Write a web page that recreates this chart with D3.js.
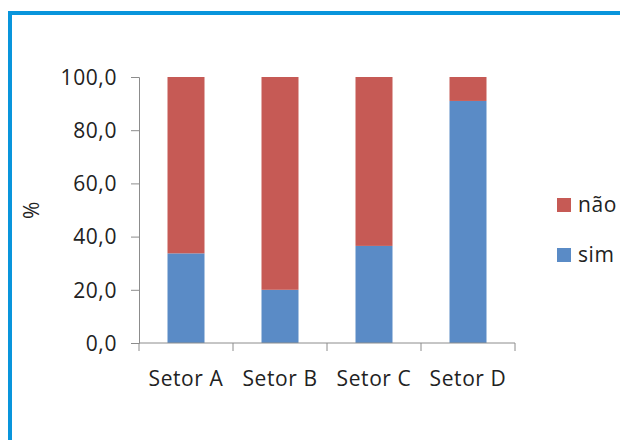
<!DOCTYPE html>
<html>
<head>
<meta charset="utf-8">
<script src="https://cdn.jsdelivr.net/npm/d3@7"></script>
<style>
  html, body { margin: 0; padding: 0; background: #fff; }
  text { font-family: 'Open Sans', sans-serif; fill: #222; letter-spacing: 0.6px; }
</style>
</head>
<body>
<div id="chart"></div>
<script>
const setores = ['Setor A', 'Setor B', 'Setor C', 'Setor D'];
const sim = [33.7, 20.0, 36.5, 91.0];
const nao = [66.3, 80.0, 63.5, 9.0];
const yTicks = [0, 20, 40, 60, 80, 100];
const legendItems = [
  { key: 'nao', label: 'não' },
  { key: 'sim', label: 'sim' }
];

const COLOR_SIM = '#5a8bc6';
const COLOR_NAO = '#c65a55';
const COLOR_FRAME = '#0995dc';
const COLOR_AXIS = '#8c8c8c';
const FONT_SIZE = '21px';

const WIDTH = 620;
const HEIGHT = 440;
const PLOT = { left: 139, right: 515, top: 77, bottom: 343 };
const BAR_W = 37;

const svg = d3.select('#chart').append('svg')
  .attr('width', WIDTH)
  .attr('height', HEIGHT);

// blue frame (top + left edges)
svg.append('path')
  .attr('d', `M10,${HEIGHT} L10,13 L${WIDTH},13`)
  .attr('fill', 'none')
  .attr('stroke', COLOR_FRAME)
  .attr('stroke-width', 4);

const xBands = d3.scaleBand()
  .domain(setores)
  .range([PLOT.left, PLOT.right]);

const y = d3.scaleLinear()
  .domain([0, 100])
  .range([PLOT.bottom, PLOT.top]);

const rows = setores.map((s, i) => ({ setor: s, sim: sim[i], nao: nao[i] }));
const stacked = d3.stack().keys(['sim', 'nao'])(rows);
const colors = { sim: COLOR_SIM, nao: COLOR_NAO };

svg.append('g')
  .selectAll('g')
  .data(stacked)
  .join('g')
  .attr('fill', d => colors[d.key])
  .selectAll('rect')
  .data(d => d)
  .join('rect')
  .attr('x', d => xBands(d.data.setor) + (xBands.bandwidth() - BAR_W) / 2)
  .attr('width', BAR_W)
  .attr('y', d => y(d[1]))
  .attr('height', d => y(d[0]) - y(d[1]));

// y axis
const yAxis = svg.append('g')
  .attr('transform', `translate(${PLOT.left},0)`)
  .call(d3.axisLeft(y).tickValues(yTicks).tickSize(8).tickPadding(14)
    .tickFormat(d => d3.format('.1f')(d).replace('.', ',')));
yAxis.selectAll('line, path').attr('stroke', COLOR_AXIS);
yAxis.selectAll('text')
  .style('font-size', FONT_SIZE)
  .attr('fill', '#222')
  .attr('dy', '0.35em');

// x axis
const xAxis = svg.append('g')
  .attr('transform', `translate(0,${PLOT.bottom})`);
xAxis.append('line')
  .attr('x1', PLOT.left).attr('x2', PLOT.right)
  .attr('stroke', COLOR_AXIS);
xAxis.selectAll('line.tick')
  .data(setores.concat(['end']))
  .join('line')
  .attr('class', 'tick')
  .attr('x1', (d, i) => i < setores.length ? xBands(d) : PLOT.right)
  .attr('x2', (d, i) => i < setores.length ? xBands(d) : PLOT.right)
  .attr('y1', 0).attr('y2', 8)
  .attr('stroke', COLOR_AXIS);
xAxis.selectAll('text')
  .data(setores)
  .join('text')
  .attr('x', d => xBands(d) + xBands.bandwidth() / 2)
  .attr('y', 43)
  .attr('text-anchor', 'middle')
  .style('font-size', FONT_SIZE)
  .text(d => d);

// y axis title
svg.append('text')
  .attr('transform', 'translate(39,210) rotate(-90)')
  .attr('text-anchor', 'middle')
  .style('font-size', FONT_SIZE)
  .text('%');

// legend
const legend = svg.append('g')
  .selectAll('g')
  .data(legendItems)
  .join('g')
  .attr('transform', (d, i) => `translate(557,${205 + i * 50})`);
legend.append('rect')
  .attr('x', 0).attr('y', -7)
  .attr('width', 14).attr('height', 14)
  .attr('fill', d => colors[d.key]);
legend.append('text')
  .attr('x', 21)
  .attr('dy', '0.35em')
  .style('font-size', FONT_SIZE)
  .text(d => d.label);
</script>
</body>
</html>
